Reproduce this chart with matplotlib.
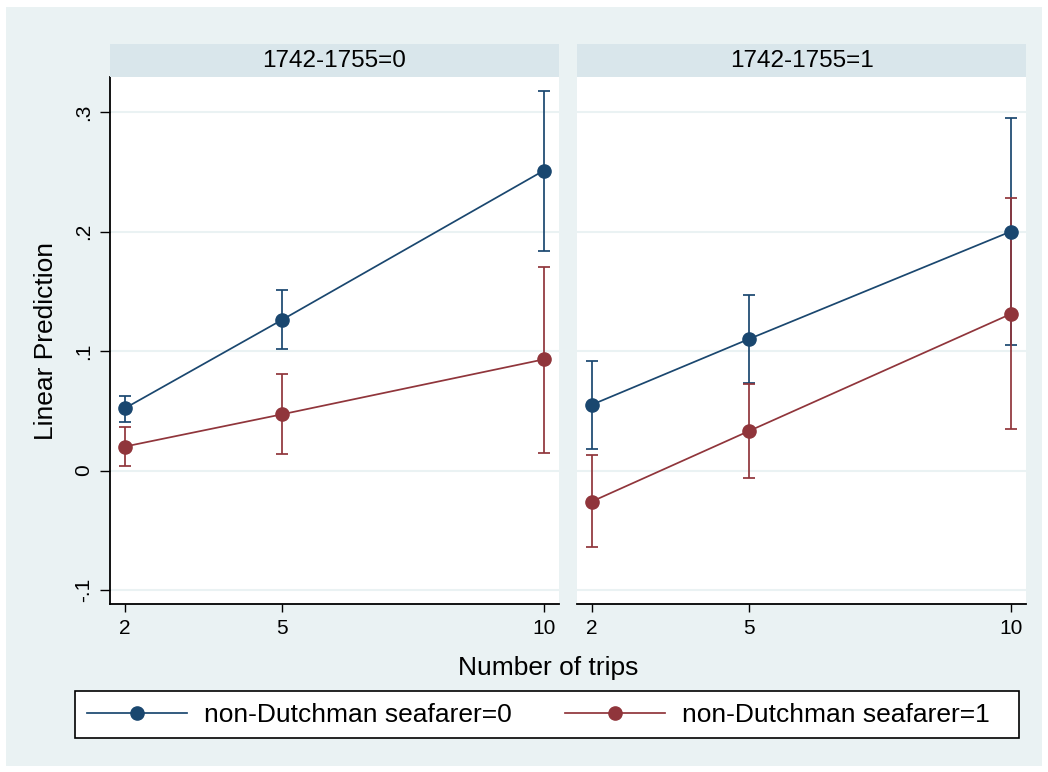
import matplotlib
matplotlib.use("Agg")
import matplotlib.pyplot as plt
from matplotlib.lines import Line2D
from matplotlib.patches import Rectangle

plt.rcParams["font.family"] = ["Liberation Sans", "DejaVu Sans"]

# Data
trips = [2, 5, 10]
panels = ["1742-1755=0", "1742-1755=1"]
groups = ["non-Dutchman seafarer=0", "non-Dutchman seafarer=1"]

# panel 0
p0_g0 = [0.052, 0.126, 0.251]
p0_g0_lo = [0.041, 0.102, 0.184]
p0_g0_hi = [0.062, 0.151, 0.318]
p0_g1 = [0.020, 0.047, 0.093]
p0_g1_lo = [0.004, 0.014, 0.015]
p0_g1_hi = [0.036, 0.081, 0.170]
# panel 1
p1_g0 = [0.055, 0.110, 0.200]
p1_g0_lo = [0.018, 0.073, 0.105]
p1_g0_hi = [0.092, 0.147, 0.295]
p1_g1 = [-0.026, 0.033, 0.131]
p1_g1_lo = [-0.064, -0.006, 0.035]
p1_g1_hi = [0.013, 0.072, 0.228]

yticks = [-0.1, 0, 0.1, 0.2, 0.3]
ytick_labels = ["-.1", "0", ".1", ".2", ".3"]

BG = "#EAF2F3"
STRIP = "#D9E6EB"
BLUE = "#1A476F"
RED = "#90353B"

W, H = 1048, 772
fig = plt.figure(figsize=(W / 100, H / 100), dpi=100)
fig.patch.set_facecolor("white")
fig.add_artist(Rectangle((6 / W, 6 / H), 1 - 12 / W, 1 - 13 / H,
                         transform=fig.transFigure, facecolor=BG,
                         edgecolor="none", zorder=0))


def fax(x0, y0, x1, y1):
    # pixel box (top-left origin) -> figure axes
    return fig.add_axes([x0 / W, 1 - y1 / H, (x1 - x0) / W, (y1 - y0) / H])


data = [
    [(p0_g0, p0_g0_lo, p0_g0_hi), (p0_g1, p0_g1_lo, p0_g1_hi)],
    [(p1_g0, p1_g0_lo, p1_g0_hi), (p1_g1, p1_g1_lo, p1_g1_hi)],
]
boxes = [(110, 559), (577, 1026)]
colors = [BLUE, RED]

for i, (x0, x1) in enumerate(boxes):
    ax = fax(x0, 77, x1, 604)
    ax.set_facecolor("white")
    for j, (mid, lo, hi) in enumerate(data[i]):
        err = [[m - l for m, l in zip(mid, lo)], [h - m for m, h in zip(mid, hi)]]
        ax.errorbar(trips, mid, yerr=err, color=colors[j], lw=1.25, marker="o",
                    ms=9.5, capsize=4, capthick=1.25, elinewidth=1.25, zorder=3)
    ax.set_xlim(1.72, 10.29)
    ax.set_ylim(-0.1117, 0.3293)
    ax.set_xticks(trips)
    ax.set_yticks(yticks)
    ax.grid(axis="y", color="#EAF2F3", lw=1.5)
    ax.set_axisbelow(True)
    for s in ["top", "right"]:
        ax.spines[s].set_visible(False)
    ax.spines["bottom"].set_linewidth(1.3)
    ax.tick_params(axis="x", length=6, width=1, labelsize=15, pad=5)
    if i == 0:
        ax.spines["left"].set_linewidth(1.3)
        ax.set_yticklabels(ytick_labels, rotation=90, va="center")
        ax.tick_params(axis="y", length=7, width=1, labelsize=15, pad=5)
        ax.set_ylabel("Linear Prediction", fontsize=19, labelpad=12)
    else:
        ax.spines["left"].set_visible(False)
        ax.tick_params(axis="y", left=False, labelleft=False)

    # strip header
    sax = fax(x0, 44, x1, 77)
    sax.set_facecolor(STRIP)
    sax.set_xticks([])
    sax.set_yticks([])
    for s in sax.spines.values():
        s.set_visible(False)
    sax.text(0.5, 0.48, panels[i], ha="center", va="center", fontsize=17.5,
             transform=sax.transAxes)

fig.text(548 / W, 1 - 675 / H, "Number of trips", ha="center", va="baseline",
         fontsize=19)

# legend box drawn by hand so that it spans the full width
fig.add_artist(Rectangle((75 / W, 1 - 738 / H), 944 / W, 47 / H,
                         transform=fig.transFigure, facecolor="white",
                         edgecolor="black", lw=1.2, zorder=1))
handles = [Line2D([0], [0], color=c, lw=1.25, marker="o", ms=9.5) for c in colors]
leg = fig.legend(handles, groups, loc="center left",
                 bbox_to_anchor=(87 / W, 1 - 715 / H), borderaxespad=0,
                 borderpad=0, ncol=2, fontsize=19, frameon=False,
                 handlelength=3.8, columnspacing=2.0, handletextpad=0.65)
leg.set_zorder(2)

fig.savefig("out.png", dpi=100, facecolor=fig.get_facecolor())
